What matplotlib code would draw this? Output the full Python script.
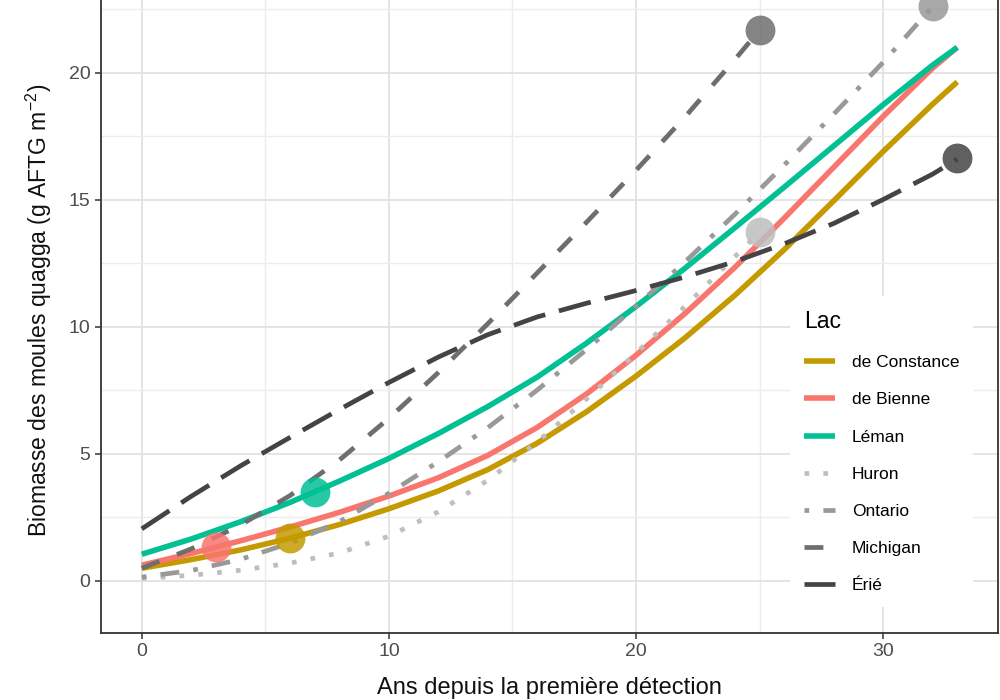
import matplotlib
matplotlib.use("Agg")
import matplotlib.pyplot as plt
from matplotlib.lines import Line2D

# ---------------------------------------------------------------------------
# Data
# ---------------------------------------------------------------------------
LAKES = ["de Constance", "de Bienne", "Léman", "Huron", "Ontario", "Michigan", "Érié"]

constance_x = [0, 2, 4, 6, 8, 10, 12, 14, 16, 18, 20, 22, 24, 26, 28, 30, 32, 33]
constance_y = [0.5, 0.84, 1.22, 1.68, 2.22, 2.84, 3.54, 4.38, 5.42, 6.66, 8.06, 9.58,
               11.24, 13.04, 14.96, 16.9, 18.76, 19.64]

bienne_x = [0, 2, 4, 6, 8, 10, 12, 14, 16, 18, 20, 22, 24, 26, 28, 30, 32, 33]
bienne_y = [0.62, 1.08, 1.58, 2.12, 2.7, 3.34, 4.06, 4.94, 6.04, 7.36, 8.88, 10.54,
            12.34, 14.28, 16.28, 18.28, 20.18, 21.0]

leman_x = [0, 2, 4, 6, 8, 10, 12, 14, 16, 18, 20, 22, 24, 26, 28, 30, 32, 33]
leman_y = [1.05, 1.65, 2.33, 3.09, 3.93, 4.82, 5.8, 6.86, 8.02, 9.36, 10.8, 12.32,
           13.9, 15.5, 17.12, 18.74, 20.3, 21.0]

huron_x = [0, 2, 4, 6, 8, 10, 12, 14, 16, 18, 20, 22, 24, 25]
huron_y = [0.1, 0.22, 0.42, 0.7, 1.1, 1.76, 2.72, 3.96, 5.46, 7.16, 8.96, 10.82, 12.76, 13.73]

ontario_x = [0, 2, 4, 6, 8, 10, 12, 14, 16, 18, 20, 22, 24, 26, 28, 30, 32]
ontario_y = [0.15, 0.41, 0.85, 1.49, 2.33, 3.45, 4.69, 6.03, 7.51, 9.11, 10.81, 12.57,
             14.43, 16.37, 18.37, 20.41, 22.6]

michigan_x = [0, 2, 4, 6, 8, 10, 12, 14, 16, 18, 20, 22, 24, 25]
michigan_y = [0.5, 1.26, 2.2, 3.36, 4.76, 6.4, 8.2, 10.12, 12.12, 14.12, 16.16, 18.28, 20.52, 21.68]

erie_x = [0, 2, 4, 6, 8, 10, 12, 14, 16, 18, 20, 22, 24, 26, 28, 30, 32, 33]
erie_y = [2.05, 3.33, 4.53, 5.65, 6.75, 7.81, 8.81, 9.69, 10.39, 10.93, 11.43, 11.97,
          12.57, 13.27, 14.07, 15.01, 16.01, 16.6]

# observed points (one per lake)
point_x = [6, 3, 7, 25, 32, 25, 33]
point_y = [1.69, 1.34, 3.5, 13.73, 22.63, 21.68, 16.65]

# ---------------------------------------------------------------------------
# Styles
# ---------------------------------------------------------------------------
COLORS = ["#C49A00", "#F8766D", "#00C094", "#BEBEBE", "#999999", "#6E6E6E", "#444444"]
DASHES = [None, None, None, (1, 3), (1, 3, 4, 3), (4, 4), (7, 3)]
LWS = [4.0, 4.0, 4.0, 3.4, 3.4, 3.4, 3.4]

plt.rcParams["font.family"] = ["Liberation Sans", "DejaVu Sans"]
plt.rcParams["mathtext.fontset"] = "custom"
plt.rcParams["mathtext.rm"] = "Liberation Sans"
plt.rcParams["mathtext.default"] = "regular"

fig = plt.figure(figsize=(10, 7), dpi=100)
# panel top is cropped off in the reference, so the axes run past the figure
ax = fig.add_axes([0.101, 0.0957, 0.897, 0.923])

series = [
    (constance_x, constance_y),
    (bienne_x, bienne_y),
    (leman_x, leman_y),
    (huron_x, huron_y),
    (ontario_x, ontario_y),
    (michigan_x, michigan_y),
    (erie_x, erie_y),
]

handles = []
for i, (xs, ys) in enumerate(series):
    kw = dict(color=COLORS[i], lw=LWS[i], solid_capstyle="butt", dash_capstyle="butt",
              solid_joinstyle="round")
    line, = ax.plot(xs, ys, zorder=3 + i * 0.1, **kw)
    if DASHES[i] is not None:
        line.set_dashes(DASHES[i])
    h = Line2D([], [], **kw)
    if DASHES[i] is not None:
        h.set_dashes(DASHES[i])
    handles.append(h)

for i in range(len(LAKES)):
    ax.plot(point_x[i], point_y[i], "o", ms=21.5, color=COLORS[i], alpha=0.85,
            mec="none", zorder=5)

ax.set_xlim(-1.65, 34.65)
ax.set_ylim(-2.05, 23.38)
ax.set_xticks([0, 10, 20, 30])
ax.set_yticks([0, 5, 10, 15, 20])
ax.set_xticks([5, 15, 25], minor=True)
ax.set_yticks([2.5, 7.5, 12.5, 17.5, 22.5], minor=True)
ax.grid(True, which="major", color="#E2E2E2", lw=1.3)
ax.grid(True, which="minor", color="#ECECEC", lw=1.0)
ax.set_axisbelow(True)
ax.tick_params(which="major", direction="out", length=4, width=1.1, color="#333333",
               labelsize=14, labelcolor="#4D4D4D", pad=3.5)
ax.tick_params(which="minor", length=0)
for s in ["left", "bottom", "right"]:
    ax.spines[s].set_color("#333333")
    ax.spines[s].set_linewidth(1.3)
ax.spines["top"].set_visible(False)

ax.set_xlabel("Ans depuis la première détection", fontsize=17, color="#111111", labelpad=12)
ax.set_ylabel("Biomasse des moules quagga (g AFTG m$^{-2}$)", fontsize=16.5,
              color="#111111", labelpad=11)

leg = ax.legend(handles, LAKES, title="Lac", loc="upper left",
                bbox_to_anchor=(0.790, 1 - 296 / 700), bbox_transform=fig.transFigure,
                frameon=True, facecolor="white", edgecolor="none", fancybox=False,
                framealpha=1, fontsize=12.5, title_fontsize=16.5,
                handlelength=1.8, handletextpad=0.95, labelspacing=1.27,
                borderpad=0.8, borderaxespad=0)
leg._legend_box.align = "left"
leg._legend_box.sep = 16
leg.set_zorder(10)

fig.savefig("out.png", dpi=100)
